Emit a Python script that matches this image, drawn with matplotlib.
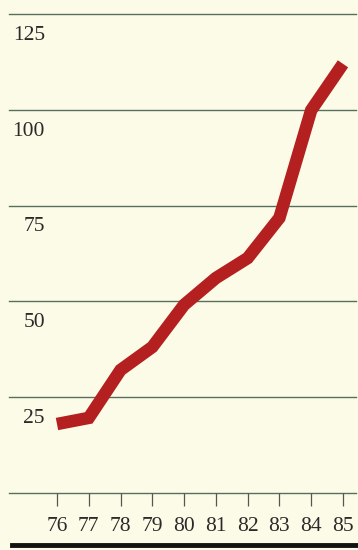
import numpy as np
import matplotlib
matplotlib.use("Agg")
import matplotlib.pyplot as plt
import matplotlib.transforms as mtrans
from matplotlib.lines import Line2D

# data
years = [76, 77, 78, 79, 80, 81, 82, 83, 84, 85]
values = [18.0, 19.6, 32.1, 38.1, 49.1, 56.1, 61.3, 71.8, 99.9, 112.0]
grid_vals = [0, 25, 50, 75, 100, 125]
ylabels = ["25", "50", "75", "100", "125"]

bg = "#fcfbe8"
plt.rcParams["font.family"] = ["Liberation Serif", "DejaVu Serif"]

fig = plt.figure(figsize=(3.58, 5.5), dpi=100, facecolor=bg)
ax = fig.add_axes([9/358, 1 - 493/550, (356 - 9)/358, (493 - 14)/550])
ax.set_facecolor(bg)

ax.set_xlim(74.49, 85.41)
ax.set_ylim(0, 125)

for v in grid_vals:
    ax.axhline(v, color="#56705c", lw=1.0, zorder=1, clip_on=False)

ax.plot(years, values, color="#b3201f", lw=9, solid_capstyle="butt",
        solid_joinstyle="miter", zorder=3, clip_on=False)

# y labels sit under their grid lines
off = mtrans.ScaledTranslation(0, -8.5/72, fig.dpi_scale_trans)
trans = mtrans.blended_transform_factory(ax.transAxes, ax.transData) + off
for v, lab in zip(grid_vals[1:], ylabels):
    ax.text(36/347, v, lab, transform=trans, ha="right", va="top",
            fontsize=15.5, color="#2a2a2a")

for s in ax.spines.values():
    s.set_visible(False)
ax.set_yticks([])
ax.set_xticks(years)
ax.set_xticklabels([str(y) for y in years], fontsize=15.5, color="#2a2a2a")
ax.tick_params(axis="x", direction="out", length=9, width=0.9,
               color="#555555", pad=8)

# heavy rule along the bottom
fig.add_artist(Line2D([12/358, 1.0], [1 - 545/550, 1 - 545/550],
                      transform=fig.transFigure, color="#121212", lw=3.5))

fig.savefig("out.png", dpi=100, facecolor=bg)
